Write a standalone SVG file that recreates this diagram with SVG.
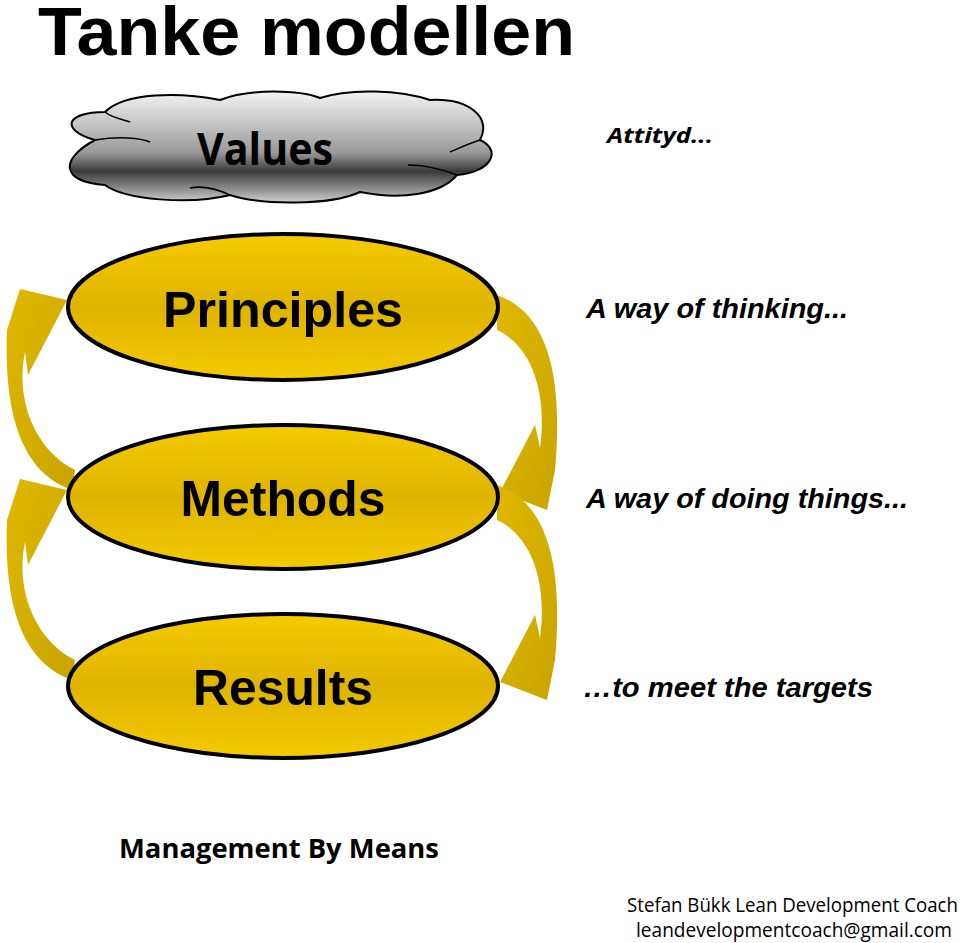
<svg xmlns="http://www.w3.org/2000/svg" width="960" height="943" viewBox="0 0 960 943">
<defs>
<linearGradient id="cg" x1="0" y1="0" x2="0" y2="1">
<stop offset="0" stop-color="#f4f4f4"/><stop offset="0.55" stop-color="#9a9a9a"/><stop offset="0.72" stop-color="#3a3a3a"/><stop offset="1" stop-color="#d0d0d0"/>
</linearGradient>
<linearGradient id="eg" x1="0" y1="0" x2="0" y2="1">
<stop offset="0" stop-color="#f5cb00"/><stop offset="0.5" stop-color="#dfb400"/><stop offset="1" stop-color="#f4ca00"/>
</linearGradient>
<linearGradient id="ag" x1="0" y1="0" x2="1" y2="1">
<stop offset="0" stop-color="#e0b800"/><stop offset="1" stop-color="#c9a400"/>
</linearGradient>
</defs>
<style>
.e{fill:url(#eg);stroke:#000;stroke-width:4}
.a{fill:url(#ag)}
.n{font-family:"Liberation Sans",Arial,sans-serif;font-weight:bold;font-size:50px;text-anchor:middle;fill:#000}
.r{font-family:"Liberation Sans",Arial,sans-serif;font-weight:bold;font-style:italic;font-size:27px;fill:#000}
.c{font-family:"Open Sans","Liberation Sans",sans-serif;fill:#000}
</style>
<text x="38" y="55" font-family="Liberation Sans,Arial,sans-serif" font-weight="bold" font-size="68" textLength="537" lengthAdjust="spacingAndGlyphs">Tanke modellen</text>
<g id="connectors">
<path class="a" d="M7,330 L20,289 L67,300 L28,375 L25,352 C15,400 35,450 75,470 L72,490 C30,475 3,430 7,330 Z"/>
<path class="a" d="M7,520 L20,479 L67,490 L28,565 L25,542 C15,590 35,640 75,660 L72,680 C30,665 3,620 7,520 Z"/>
<path class="a" d="M497,295 C540,310 565,360 555,470 L547,510 L500,492 L535,425 L540,448 C548,390 530,345 497,330 Z"/>
<path class="a" d="M497,485 C540,500 565,550 555,660 L547,700 L500,682 L535,615 L540,638 C548,580 530,535 497,520 Z"/>
</g>
<g id="values">
<path d="M95,140 C60,130 65,112 105,112 C125,92 180,92 220,100 C250,88 300,90 320,98 C350,88 400,90 430,100 C470,98 492,118 480,140 C502,150 492,172 457,175 C440,195 400,200 360,192 C330,206 260,205 230,195 C190,205 125,200 105,185 C62,182 58,160 95,140 Z" fill="url(#cg)" stroke="#000" stroke-width="2"/>
<path d="M95,140 C120,136 140,138 150,142 M480,140 C465,145 455,150 450,152 M457,175 C440,168 420,165 408,165 M230,195 C215,188 200,186 190,188 M105,112 C112,118 125,120 130,122" fill="none" stroke="#000" stroke-width="1.5"/>
<text x="265" y="165" class="c" font-weight="bold" font-size="44" text-anchor="middle" textLength="136" lengthAdjust="spacingAndGlyphs">Values</text>
</g>
<g id="principles"><ellipse class="e" cx="283" cy="307" rx="215" ry="73"/><text class="n" x="283" y="327" textLength="240" lengthAdjust="spacingAndGlyphs">Principles</text></g>
<g id="methods"><ellipse class="e" cx="283" cy="497" rx="215" ry="72"/><text class="n" x="283" y="516" textLength="205" lengthAdjust="spacingAndGlyphs">Methods</text></g>
<g id="results"><ellipse class="e" cx="283" cy="686" rx="215" ry="72"/><text class="n" x="283" y="705" textLength="180" lengthAdjust="spacingAndGlyphs">Results</text></g>
<text x="607" y="143" class="c" font-weight="bold" font-style="italic" font-size="22" textLength="106" lengthAdjust="spacingAndGlyphs">Attityd...</text>
<text x="586" y="318" class="r" textLength="262" lengthAdjust="spacingAndGlyphs">A way of thinking...</text>
<text x="586" y="508" class="r" textLength="322" lengthAdjust="spacingAndGlyphs">A way of doing things...</text>
<text x="583" y="697" class="r" textLength="290" lengthAdjust="spacingAndGlyphs">…to meet the targets</text>
<text x="119" y="858" class="c" font-weight="bold" font-size="27" textLength="320" lengthAdjust="spacingAndGlyphs">Management By Means</text>
<text x="627" y="912" class="c" font-size="20" textLength="331" lengthAdjust="spacingAndGlyphs">Stefan Bükk Lean Development Coach</text>
<text x="636" y="937" class="c" font-size="20" textLength="316" lengthAdjust="spacingAndGlyphs">leandevelopmentcoach@gmail.com</text>
</svg>
